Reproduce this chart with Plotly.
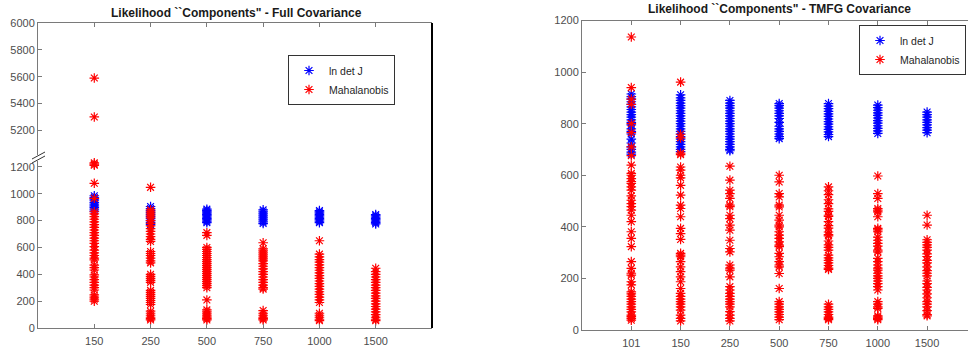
import plotly.graph_objects as go

# ---------------- data ----------------
full_cats = ["150", "250", "500", "750", "1000", "1500"]
tmfg_cats = ["101", "150", "250", "500", "750", "1000", "1500"]

full_lndet_150 = [985, 972, 960, 948, 935, 922, 910, 898, 885, 870]
full_maha_150 = [5590, 5300, 1230, 1220, 1212, 1078, 966, 866, 850, 830, 810, 790, 770, 750, 730, 710, 690,
                 670, 650, 631, 606, 580, 560, 540, 520, 507, 469, 450, 432, 395, 380, 360, 340, 320, 300,
                 283, 246, 230, 215, 200]
full_lndet_250 = [905, 890, 875, 860, 845, 830, 815, 800, 785, 770]
full_maha_250 = [1048, 880, 865, 850, 835, 820, 800, 780, 760, 740, 720, 700, 680, 660, 645, 570, 555, 540,
                 520, 500, 485, 400, 385, 370, 355, 340, 280, 265, 250, 235, 220, 205, 190, 175, 125, 110,
                 95, 80, 70, 60]
full_lndet_500 = [885, 875, 865, 855, 845, 835, 825, 815, 805, 795, 785]
full_maha_500 = [710, 690, 600, 585, 570, 555, 540, 525, 510, 495, 480, 465, 450, 435, 420, 405, 390, 375,
                 360, 345, 330, 315, 300, 209, 135, 120, 105, 90, 80, 70, 60]
full_lndet_750 = [880, 865, 850, 835, 820, 805, 790, 778]
full_maha_750 = [635, 590, 575, 560, 545, 530, 515, 500, 480, 460, 440, 420, 400, 380, 360, 340, 320, 300,
                 290, 130, 110, 95, 80, 70, 60]
full_lndet_1000 = [875, 865, 855, 845, 835, 825, 815, 805, 795, 785]
full_maha_1000 = [650, 550, 530, 510, 490, 470, 450, 430, 410, 390, 370, 350, 330, 310, 290, 270, 250, 230,
                  210, 190, 110, 95, 80, 65, 55]
full_lndet_1500 = [845, 835, 825, 815, 805, 795, 785, 775]
full_maha_1500 = [445, 420, 400, 380, 360, 340, 320, 300, 280, 260, 240, 220, 200, 180, 160, 140, 120, 100,
                  80, 65, 55]

tmfg_lndet_101 = [915, 905, 895, 885, 875, 865, 855, 845, 835, 825, 815, 805, 795, 780, 770, 760, 740, 725,
                  710, 700, 690, 682]
tmfg_maha_101 = [1136, 940, 895, 875, 800, 765, 710, 676, 639, 607, 600, 587, 575, 568, 555, 542,
                 520, 503, 490, 478, 465, 445, 420, 381, 355, 323, 265, 239, 220, 213, 187, 175, 148, 140,
                 130, 120, 110, 100, 90, 80, 70, 58, 52, 45, 38]
tmfg_lndet_150 = [912, 900, 890, 880, 870, 860, 850, 840, 830, 820, 810, 800, 790, 780, 770, 760, 750, 740,
                  730, 720, 710, 700, 692]
tmfg_maha_150 = [961, 759, 745, 686, 680, 632, 620, 600, 590, 561, 523, 484, 471, 439, 394, 374,
                 351, 297, 290, 284, 265, 245, 226, 206, 187, 161, 142, 130, 120, 110, 100, 90, 77, 58, 45, 35]
tmfg_lndet_250 = [890, 880, 870, 860, 850, 840, 830, 820, 810, 800, 790, 780, 770, 760, 750, 740, 730, 720,
                  710, 700, 695]
tmfg_maha_250 = [635, 581, 542, 529, 510, 484, 478, 445, 432, 407, 387, 348, 316, 303, 252, 240, 232, 206,
                 168, 155, 142, 130, 120, 110, 100, 90, 71, 58, 45, 35]
tmfg_lndet_500 = [878, 870, 860, 850, 840, 830, 820, 805, 790, 780, 770, 760, 750, 742]
tmfg_maha_500 = [600, 574, 529, 516, 484, 477, 445, 426, 407, 400, 381, 368, 355, 342, 329, 323, 297, 284,
                 265, 252, 245, 219, 161, 110, 100, 90, 80, 70, 60, 50, 40]
tmfg_lndet_750 = [878, 868, 858, 848, 838, 828, 818, 808, 798, 788, 778, 768, 758, 750]
tmfg_maha_750 = [555, 540, 525, 505, 490, 470, 460, 445, 440, 420, 405, 395, 380, 370, 365, 345, 330, 320,
                 310, 290, 280, 270, 260, 250, 240, 235, 100, 90, 80, 70, 60, 50, 45, 40]
tmfg_lndet_1000 = [872, 862, 852, 842, 832, 822, 812, 802, 792, 782, 772, 762]
tmfg_maha_1000 = [597, 529, 510, 471, 465, 458, 439, 394, 388, 381, 360, 348, 336, 325, 310, 303, 278, 265,
                  252, 240, 232, 220, 210, 200, 190, 180, 168, 155, 110, 100, 90, 84, 55, 50, 45, 40]
tmfg_lndet_1500 = [845, 835, 825, 815, 805, 795, 785, 775, 765]
tmfg_maha_1500 = [445, 407, 350, 340, 330, 320, 310, 295, 285, 270, 260, 245, 230, 220, 210, 190, 180, 165,
                  155, 140, 125, 110, 100, 90, 75, 60, 55]

full_lndet = [full_lndet_150, full_lndet_250, full_lndet_500, full_lndet_750, full_lndet_1000, full_lndet_1500]
full_maha = [full_maha_150, full_maha_250, full_maha_500, full_maha_750, full_maha_1000, full_maha_1500]
tmfg_lndet = [tmfg_lndet_101, tmfg_lndet_150, tmfg_lndet_250, tmfg_lndet_500, tmfg_lndet_750,
              tmfg_lndet_1000, tmfg_lndet_1500]
tmfg_maha = [tmfg_maha_101, tmfg_maha_150, tmfg_maha_250, tmfg_maha_500, tmfg_maha_750,
             tmfg_maha_1000, tmfg_maha_1500]

BREAK = 3000  # values above this go on the upper part of the broken axis


def flatten(cats, groups, keep=lambda v: True):
    xs, ys = [], []
    for c, vals in zip(cats, groups):
        for v in vals:
            if keep(v):
                xs.append(c)
                ys.append(v)
    return xs, ys


W, H = 968, 351
BLUE, RED = "#0000FF", "#FF0000"
FONT = "Liberation Sans, Arial, sans-serif"
AXC = "#7a7a7a"
TICKC = "#4d4d4d"


def mk(color, size=8):
    return dict(symbol="asterisk-open", size=size, color=color, line=dict(color=color, width=1.2))


fig = go.Figure()

# left panel – lower part
x, y = flatten(full_cats, full_lndet)
fig.add_trace(go.Scatter(x=x, y=y, mode="markers", name="ln det J", marker=mk(BLUE),
                         xaxis="x", yaxis="y", legend="legend"))
x, y = flatten(full_cats, full_maha, lambda v: v < BREAK)
fig.add_trace(go.Scatter(x=x, y=y, mode="markers", name="Mahalanobis", marker=mk(RED),
                         xaxis="x", yaxis="y", legend="legend"))
# left panel – upper part
x, y = flatten(full_cats, full_maha, lambda v: v >= BREAK)
fig.add_trace(go.Scatter(x=x, y=y, mode="markers", name="Mahalanobis", marker=mk(RED),
                         xaxis="x3", yaxis="y3", showlegend=False))

# right panel
x, y = flatten(tmfg_cats, tmfg_lndet)
fig.add_trace(go.Scatter(x=x, y=y, mode="markers", name="ln det J", marker=mk(BLUE),
                         xaxis="x2", yaxis="y2", legend="legend2"))
x, y = flatten(tmfg_cats, tmfg_maha)
fig.add_trace(go.Scatter(x=x, y=y, mode="markers", name="Mahalanobis", marker=mk(RED),
                         xaxis="x2", yaxis="y2", legend="legend2"))

# geometry (pixels)
L_left, L_right, L_top, L_bot, L_brk = 38, 432, 23, 328, 158
R_left, R_top, R_bot = 582, 20.5, 330
px_per_200_L = 26.85
lower_top_val = (L_bot - L_brk) / px_per_200_L * 200
upper_bot_val = 6000 - (L_brk - L_top) / px_per_200_L * 200
R_units = (W - R_left) / 49.3


def py(p):
    return 1 - p / H


def px(p):
    return p / W


axis_common = dict(showline=True, linecolor=AXC, linewidth=1, ticks="inside", tickcolor=AXC,
                   ticklen=4, showgrid=False, zeroline=False, automargin=False,
                   tickfont=dict(family=FONT, size=11, color=TICKC))

fig.update_layout(
    template="none",
    width=W, height=H, margin=dict(l=0, r=0, t=0, b=0, pad=0), autosize=False,
    plot_bgcolor="white", paper_bgcolor="white",
    xaxis=dict(axis_common, type="category", categoryorder="array", categoryarray=full_cats,
               range=[-1, len(full_cats)], domain=[px(L_left), px(L_right)], anchor="y",
               ticklabelstandoff=3),
    yaxis=dict(axis_common, range=[0, lower_top_val], domain=[py(L_bot), py(L_brk)], anchor="x",
               tickvals=[0, 200, 400, 600, 800, 1000, 1200]),
    xaxis3=dict(axis_common, type="category", categoryorder="array", categoryarray=full_cats,
                range=[-1, len(full_cats)], domain=[px(L_left), px(L_right)], anchor="y3",
                side="top", showticklabels=False),
    yaxis3=dict(axis_common, range=[upper_bot_val, 6000], domain=[py(L_brk), py(L_top)], anchor="x3",
                tickvals=[5200, 5400, 5600, 5800, 6000]),
    xaxis2=dict(axis_common, type="category", categoryorder="array", categoryarray=tmfg_cats,
                range=[-1, -1 + R_units], domain=[px(R_left), 1], anchor="y2", mirror="ticks",
                ticklabelstandoff=3),
    yaxis2=dict(axis_common, range=[0, 1200], domain=[py(R_bot), py(R_top)], anchor="x2",
                tickvals=[0, 200, 400, 600, 800, 1000, 1200]),
    legend=dict(x=px(395), y=py(55), xanchor="right", yanchor="top", bgcolor="white",
                bordercolor="#333333", borderwidth=1,
                font=dict(family=FONT, size=10.5, color="#262626"), tracegroupgap=0),
    legend2=dict(x=px(966), y=py(25), xanchor="right", yanchor="top", bgcolor="white",
                 bordercolor="#333333", borderwidth=1,
                 font=dict(family=FONT, size=10.5, color="#262626"), tracegroupgap=0),
    annotations=[
        dict(text="<b>Likelihood ``Components\" - Full Covariance</b>", x=px(236), y=py(12.5),
             xref="paper", yref="paper", showarrow=False, xanchor="center", yanchor="middle",
             font=dict(family=FONT, size=12, color="#1a1a1a")),
        dict(text="<b>Likelihood ``Components\" - TMFG Covariance</b>", x=px(779), y=py(9),
             xref="paper", yref="paper", showarrow=False, xanchor="center", yanchor="middle",
             font=dict(family=FONT, size=12, color="#1a1a1a")),
    ],
    shapes=[
        dict(type="line", xref="paper", yref="paper", x0=px(L_right), x1=px(L_right),
             y0=py(L_bot), y1=py(L_top), line=dict(color="black", width=2)),
        dict(type="rect", xref="paper", yref="paper", x0=px(L_left - 2), x1=px(L_left + 2),
             y0=py(L_brk + 3), y1=py(L_brk - 3), fillcolor="white", line=dict(width=0)),
        dict(type="line", xref="paper", yref="paper", x0=px(32), x1=px(45),
             y0=py(L_brk + 5), y1=py(L_brk - 2), line=dict(color="#333333", width=1)),
        dict(type="line", xref="paper", yref="paper", x0=px(32), x1=px(45),
             y0=py(L_brk + 1), y1=py(L_brk - 6), line=dict(color="#333333", width=1)),
    ],
)

fig.write_html("out.html", config={"displayModeBar": False},
               post_script="document.body.style.margin='0px';document.body.style.overflow='hidden';")
